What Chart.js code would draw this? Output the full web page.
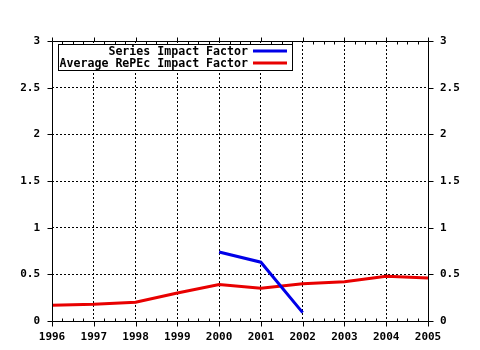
<!DOCTYPE html>
<html>
<head>
<meta charset="utf-8">
<script src="https://cdn.jsdelivr.net/npm/chart.js@4/dist/chart.umd.min.js"></script>
<style>
html,body{margin:0;padding:0;background:#fff;}
canvas{display:block;}
</style>
</head>
<body>
<canvas id="c" width="480" height="350"></canvas>
<script>
const years = [1996, 1997, 1998, 1999, 2000, 2001, 2002, 2003, 2004, 2005];
const seriesIF = [null, null, null, null, 0.74, 0.63, 0.09, null, null, null];
const averageIF = [0.17, 0.18, 0.20, 0.30, 0.39, 0.35, 0.40, 0.42, 0.48, 0.46];
const seriesNames = ["Series Impact Factor", "Average RePEc Impact Factor"];
const yTicks = [0, 0.5, 1, 1.5, 2, 2.5, 3];

const FONT = 'bold 11.6px "DejaVu Sans Mono", "Liberation Mono", monospace';

function pts(vals) {
  return years.map((y, i) => ({x: y, y: vals[i]}));
}

const framePlugin = {
  id: 'frame',
  afterDatasetsDraw(chart) {
    const ctx = chart.ctx, a = chart.chartArea;
    const xs = chart.scales.x, ys = chart.scales.y;
    ctx.save();
    ctx.strokeStyle = '#000';
    ctx.lineWidth = 1;
    ctx.setLineDash([]);
    const L = Math.round(a.left) + 0.5, R = Math.round(a.right) + 0.5;
    const T = Math.round(a.top) + 0.5, B = Math.round(a.bottom) + 0.5;
    ctx.beginPath();
    ctx.rect(L, T, R - L, B - T);
    ctx.stroke();
    ctx.beginPath();
    for (let yr = years[0]; yr <= years[years.length - 1]; yr++) {
      const px = Math.round(xs.getPixelForValue(yr)) + 0.5;
      ctx.moveTo(px, B); ctx.lineTo(px, B + 5);
      ctx.moveTo(px, T); ctx.lineTo(px, T - 4);
      if (yr < years[years.length - 1]) {
        for (let q = 1; q < 4; q++) {
          const mx = Math.round(xs.getPixelForValue(yr + q / 4)) + 0.5;
          ctx.moveTo(mx, B); ctx.lineTo(mx, B - 3);
          ctx.moveTo(mx, T); ctx.lineTo(mx, T + 3);
        }
      }
    }
    yTicks.forEach(v => {
      const py = Math.round(ys.getPixelForValue(v)) + 0.5;
      ctx.moveTo(L, py); ctx.lineTo(L - 5, py);
      ctx.moveTo(R, py); ctx.lineTo(R + 5, py);
    });
    ctx.stroke();

    // legend
    const bx = 58.5, by = 44.5, bw = 234, bh = 26;
    ctx.fillStyle = '#fff';
    ctx.fillRect(bx, by, bw, bh);
    ctx.strokeRect(bx, by, bw, bh);
    ctx.font = FONT;
    ctx.textAlign = 'right';
    ctx.textBaseline = 'middle';
    chart.data.datasets.forEach((ds, i) => {
      const cy = 51 + i * 12;
      ctx.fillStyle = '#000';
      ctx.fillText(ds.label, 248, cy + 1);
      ctx.strokeStyle = ds.borderColor;
      ctx.lineWidth = 3;
      ctx.beginPath();
      ctx.moveTo(253, cy);
      ctx.lineTo(287, cy);
      ctx.stroke();
    });
    ctx.restore();
  }
};

const gridColor = (ctx) => {
  return (ctx.index === 0 || ctx.index === ctx.chart.scales[ctx.scale.id].ticks.length - 1) ? 'rgba(0,0,0,0)' : '#000';
};

const tickFont = {family: '"DejaVu Sans Mono", monospace', size: 11, weight: 'bold'};

new Chart(document.getElementById('c'), {
  type: 'line',
  data: {
    datasets: [
      {label: seriesNames[0], data: pts(seriesIF), borderColor: '#0000e8', borderWidth: 3, pointRadius: 0, tension: 0, spanGaps: false},
      {label: seriesNames[1], data: pts(averageIF), borderColor: '#e80000', borderWidth: 3, pointRadius: 0, tension: 0}
    ]
  },
  options: {
    responsive: false,
    animation: false,
    devicePixelRatio: 1,
    layout: {padding: {top: 41, left: 0, right: 0, bottom: 0}},
    plugins: {legend: {display: false}, tooltip: {enabled: false}},
    scales: {
      x: {
        type: 'linear', min: years[0], max: years[years.length - 1],
        afterFit(s) { s.height = 29; },
        ticks: {stepSize: 1, color: '#000', font: tickFont, padding: 5, maxRotation: 0, callback: v => String(v)},
        grid: {color: gridColor, tickLength: 5, tickColor: 'rgba(0,0,0,0)', lineWidth: 1},
        border: {display: false, dash: [2, 2]}
      },
      y: {
        type: 'linear', position: 'left', min: 0, max: 3,
        afterFit(s) { s.width = 52; },
        ticks: {stepSize: 0.5, color: '#000', font: tickFont, padding: 7, callback: v => String(v)},
        grid: {color: gridColor, tickLength: 5, tickColor: 'rgba(0,0,0,0)', lineWidth: 1},
        border: {display: false, dash: [2, 2]}
      },
      y2: {
        type: 'linear', position: 'right', min: 0, max: 3,
        afterFit(s) { s.width = 52; },
        ticks: {stepSize: 0.5, color: '#000', font: tickFont, padding: 7, callback: v => String(v)},
        grid: {display: false, tickLength: 5},
        border: {display: false}
      }
    }
  },
  plugins: [framePlugin]
});
</script>
</body>
</html>
